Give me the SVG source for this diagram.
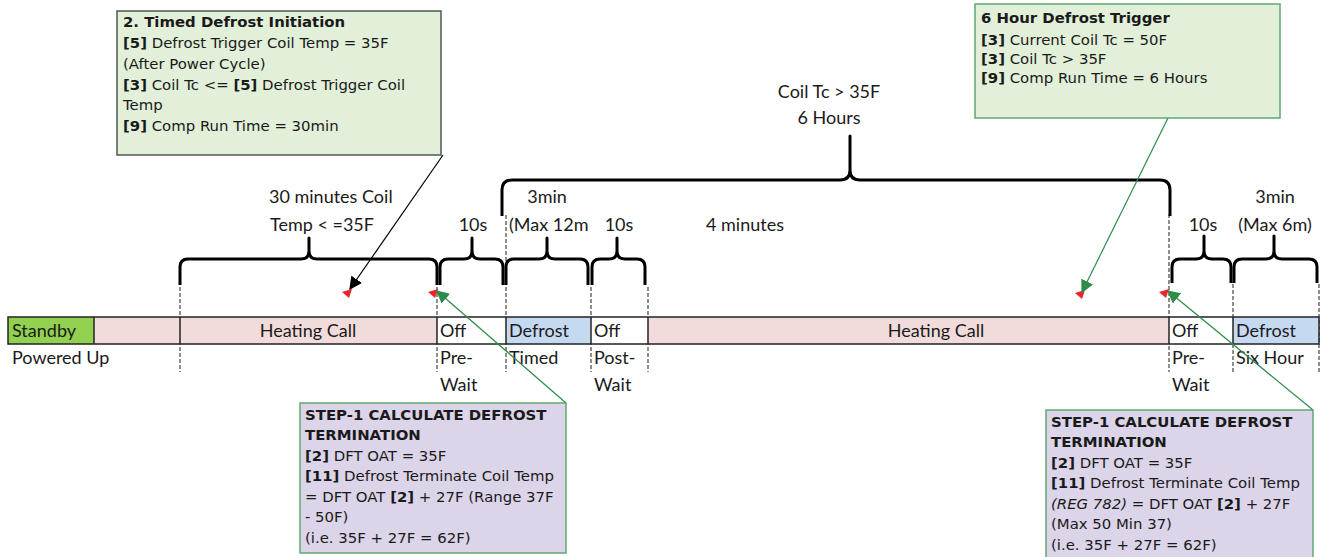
<svg xmlns="http://www.w3.org/2000/svg" width="1323" height="557" viewBox="0 0 1323 557">
<defs>
<style>
.note{font-family:"DejaVu Sans",Verdana,sans-serif;font-size:14.9px;fill:#1a1a1a}
.b{font-weight:bold}
.lab{font-family:Lato,"Liberation Sans",sans-serif;font-size:18px;fill:#1a1a1a}
.brace{fill:none;stroke:#000;stroke-width:3;stroke-linejoin:round}
.dash{stroke:#444;stroke-width:1.2;stroke-dasharray:4,2}
.seg{stroke:#222;stroke-width:1.5}
.flag{fill:#e8262a}
</style>
<marker id="ahB" viewBox="0 0 10 10" refX="9" refY="5" markerWidth="13" markerHeight="13" markerUnits="userSpaceOnUse" orient="auto"><path d="M0,0 L10,5 L0,10 z" fill="#000"/></marker>
<marker id="ahG" viewBox="0 0 10 10" refX="9" refY="5" markerWidth="13" markerHeight="13" markerUnits="userSpaceOnUse" orient="auto"><path d="M0,0 L10,5 L0,10 z" fill="#2e8b4a"/></marker>
</defs>
<rect width="1323" height="557" fill="#fff"/>

<g id="dashes">
<line class="dash" x1="180" y1="287" x2="180" y2="372"/>
<line class="dash" x1="437" y1="287" x2="437" y2="372"/>
<line class="dash" x1="506" y1="215" x2="506" y2="372"/>
<line class="dash" x1="591" y1="287" x2="591" y2="372"/>
<line class="dash" x1="648" y1="287" x2="648" y2="372"/>
<line class="dash" x1="1169" y1="214" x2="1169" y2="372"/>
<line class="dash" x1="1233" y1="284" x2="1233" y2="372"/>
<line class="dash" x1="1319" y1="284" x2="1319" y2="372"/>
</g>

<g id="timeline">
<rect x="8" y="317" width="86" height="27" fill="#92d050"/>
<rect x="94" y="317" width="343" height="27" fill="#f2dcdb"/>
<rect x="437" y="317" width="69" height="27" fill="#fff"/>
<rect x="506" y="317" width="85" height="27" fill="#c5d9f1"/>
<rect x="591" y="317" width="57" height="27" fill="#fff"/>
<rect x="648" y="317" width="521" height="27" fill="#f2dcdb"/>
<rect x="1169" y="317" width="64" height="27" fill="#fff"/>
<rect x="1233" y="317" width="86" height="27" fill="#c5d9f1"/>
<rect x="8" y="317" width="1311" height="27" fill="none" stroke="#222" stroke-width="1.5"/>
<line class="seg" x1="94" y1="317" x2="94" y2="344"/>
<line class="seg" x1="180" y1="317" x2="180" y2="344"/>
<line class="seg" x1="437" y1="317" x2="437" y2="344"/>
<line class="seg" x1="506" y1="317" x2="506" y2="344"/>
<line class="seg" x1="591" y1="317" x2="591" y2="344"/>
<line class="seg" x1="648" y1="317" x2="648" y2="344"/>
<line class="seg" x1="1169" y1="317" x2="1169" y2="344"/>
<line class="seg" x1="1233" y1="317" x2="1233" y2="344"/>
<text class="lab" x="12" y="337">Standby</text>
<text class="lab" x="308" y="337" text-anchor="middle">Heating Call</text>
<text class="lab" x="440" y="337">Off</text>
<text class="lab" x="509" y="337">Defrost</text>
<text class="lab" x="594" y="337">Off</text>
<text class="lab" x="936" y="337" text-anchor="middle">Heating Call</text>
<text class="lab" x="1172" y="337">Off</text>
<text class="lab" x="1236" y="337">Defrost</text>
<text class="lab" x="12" y="364">Powered Up</text>
<text class="lab" x="440" y="364">Pre-</text>
<text class="lab" x="440" y="391">Wait</text>
<text class="lab" x="509" y="364">Timed</text>
<text class="lab" x="594" y="364">Post-</text>
<text class="lab" x="594" y="391">Wait</text>
<text class="lab" x="1172" y="364">Pre-</text>
<text class="lab" x="1172" y="391">Wait</text>
<text class="lab" x="1236" y="364">Six Hour</text>
</g>

<g id="braces">
<path class="brace" d="M180,285 L180,267 Q180,259 188,259 L301,259 Q309,259 309,251 L309,238 L309,251 Q309,259 317,259 L429,259 Q437,259 437,267 L437,285"/>
<path class="brace" d="M440,285 L440,267 Q440,259 448,259 L464,259 Q472,259 472,251 L472,238 L472,251 Q472,259 480,259 L495,259 Q503,259 503,267 L503,285"/>
<path class="brace" d="M506,285 L506,267 Q506,259 514,259 L539,259 Q547,259 547,251 L547,238 L547,251 Q547,259 555,259 L580,259 Q588,259 588,267 L588,285"/>
<path class="brace" d="M592,285 L592,267 Q592,259 600,259 L609,259 Q617,259 617,251 L617,238 L617,251 Q617,259 625,259 L637,259 Q645,259 645,267 L645,285"/>
<path class="brace" d="M1172,283 L1172,267 Q1172,259 1180,259 L1196,259 Q1204,259 1204,251 L1204,236 L1204,251 Q1204,259 1212,259 L1223,259 Q1231,259 1231,267 L1231,283"/>
<path class="brace" d="M1234,283 L1234,267 Q1234,259 1242,259 L1266,259 Q1274,259 1274,251 L1274,236 L1274,251 Q1274,259 1282,259 L1309,259 Q1317,259 1317,267 L1317,283"/>
<path class="brace" d="M502,216 L502,190 Q502,180 512,180 L840,180 Q850,180 850,170 L850,136 L850,170 Q850,180 860,180 L1160,180 Q1170,180 1170,190 L1170,216"/>
<text class="lab" x="269" y="203">30 minutes Coil</text>
<text class="lab" x="270" y="231">Temp &lt; =35F</text>
<text class="lab" x="473" y="231" text-anchor="middle">10s</text>
<text class="lab" x="547" y="203" text-anchor="middle">3min</text>
<text class="lab" x="509" y="231">(Max 12m</text>
<text class="lab" x="619" y="231" text-anchor="middle">10s</text>
<text class="lab" x="745" y="231" text-anchor="middle">4 minutes</text>
<text class="lab" x="829" y="98" text-anchor="middle">Coil Tc &gt; 35F</text>
<text class="lab" x="829" y="124" text-anchor="middle">6 Hours</text>
<text class="lab" x="1203" y="231" text-anchor="middle">10s</text>
<text class="lab" x="1275" y="203" text-anchor="middle">3min</text>
<text class="lab" x="1275" y="231" text-anchor="middle">(Max 6m)</text>
</g>

<g id="flags">
<polygon class="flag" points="342,292 352,289 349,298"/>
<polygon class="flag" points="428,292 438,289 435,298"/>
<polygon class="flag" points="1075,293 1085,290 1082,299"/>
<polygon class="flag" points="1159,292 1169,289 1166,298"/>
</g>

<g id="connectors">
<line x1="443" y1="155" x2="350" y2="289" stroke="#000" stroke-width="1.2" marker-end="url(#ahB)"/>
<line x1="1168" y1="118" x2="1082" y2="292" stroke="#2e8b4a" stroke-width="1.2" marker-end="url(#ahG)"/>
<line x1="566" y1="403" x2="437" y2="291" stroke="#2e8b4a" stroke-width="1.2" marker-end="url(#ahG)"/>
<line x1="1313" y1="410" x2="1168" y2="291" stroke="#2e8b4a" stroke-width="1.2" marker-end="url(#ahG)"/>
</g>

<g id="timed-defrost-note">
<rect x="117" y="11" width="324" height="144" fill="#e2efd9" stroke="#4d5b4d" stroke-width="1.5"/>
<text class="note" x="123" y="27"><tspan class="b">2. Timed Defrost Initiation</tspan></text>
<text class="note" x="123" y="48"><tspan class="b">[5]</tspan> Defrost Trigger Coil Temp = 35F</text>
<text class="note" x="123" y="69">(After Power Cycle)</text>
<text class="note" x="123" y="90"><tspan class="b">[3]</tspan> Coil Tc &lt;= <tspan class="b">[5]</tspan> Defrost Trigger Coil</text>
<text class="note" x="123" y="110">Temp</text>
<text class="note" x="123" y="131"><tspan class="b">[9]</tspan> Comp Run Time = 30min</text>
</g>

<g id="six-hour-note">
<rect x="975" y="4" width="305" height="114" fill="#e2efd9" stroke="#5da86f" stroke-width="1.5"/>
<text class="note" x="981" y="23"><tspan class="b">6 Hour Defrost Trigger</tspan></text>
<text class="note" x="981" y="45"><tspan class="b">[3]</tspan> Current Coil Tc = 50F</text>
<text class="note" x="981" y="64"><tspan class="b">[3]</tspan> Coil Tc &gt; 35F</text>
<text class="note" x="981" y="83"><tspan class="b">[9]</tspan> Comp Run Time = 6 Hours</text>
</g>

<g id="step1-note-a">
<rect x="300" y="403" width="266" height="150" fill="#dcd4e8" stroke="#5fa86f" stroke-width="1.5"/>
<text class="note" x="305" y="420"><tspan class="b">STEP-1 CALCULATE DEFROST</tspan></text>
<text class="note" x="305" y="440"><tspan class="b">TERMINATION</tspan></text>
<text class="note" x="305" y="461"><tspan class="b">[2]</tspan> DFT OAT = 35F</text>
<text class="note" x="305" y="481"><tspan class="b">[11]</tspan> Defrost Terminate Coil Temp</text>
<text class="note" x="305" y="502">= DFT OAT <tspan class="b">[2]</tspan> + 27F (Range 37F</text>
<text class="note" x="305" y="522">- 50F)</text>
<text class="note" x="305" y="543">(i.e. 35F + 27F = 62F)</text>
</g>

<g id="step1-note-b">
<rect x="1046" y="410" width="267" height="152" fill="#dcd4e8" stroke="#5fa86f" stroke-width="1.5"/>
<text class="note" x="1051" y="427"><tspan class="b">STEP-1 CALCULATE DEFROST</tspan></text>
<text class="note" x="1051" y="447"><tspan class="b">TERMINATION</tspan></text>
<text class="note" x="1051" y="468"><tspan class="b">[2]</tspan> DFT OAT = 35F</text>
<text class="note" x="1051" y="488"><tspan class="b">[11]</tspan> Defrost Terminate Coil Temp</text>
<text class="note" x="1051" y="509"><tspan font-style="italic">(REG 782)</tspan> = DFT OAT <tspan class="b">[2]</tspan> + 27F</text>
<text class="note" x="1051" y="529">(Max 50 Min 37)</text>
<text class="note" x="1051" y="550">(i.e. 35F + 27F = 62F)</text>
</g>
</svg>
